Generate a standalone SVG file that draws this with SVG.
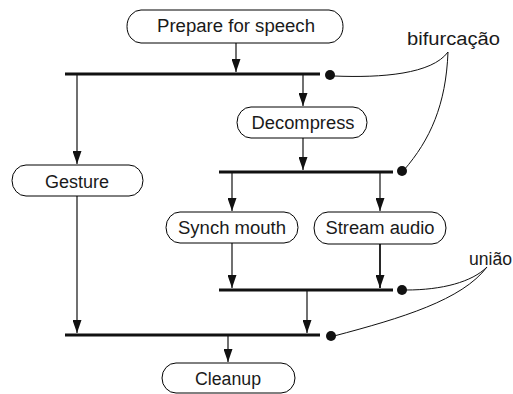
<svg xmlns="http://www.w3.org/2000/svg" width="513" height="394" viewBox="0 0 513 394">
<defs>
<style>
.box{fill:#fff;stroke:#000;stroke-width:1}
.t{font-family:"Liberation Sans",Arial,sans-serif;font-size:18px;fill:#1a1a1a;text-anchor:middle}
.lbl{font-family:"Liberation Sans",Arial,sans-serif;font-size:18px;fill:#1a1a1a}
.bar{stroke:#111;stroke-width:3;fill:none}
.c{stroke:#111;stroke-width:1.2;fill:none;marker-end:url(#ahd)}
.note{stroke:#111;stroke-width:1;fill:none}
.dot{fill:#111}
</style>
<marker id="ahd" markerUnits="userSpaceOnUse" markerWidth="13" markerHeight="9" refX="13" refY="4.5" orient="auto" viewBox="0 0 13 9">
<path d="M0,0 L13,4.5 L0,9 z" fill="#111"/>
</marker>
</defs>
<g id="bars">
<line class="bar" x1="65" y1="74" x2="320" y2="74"/>
<line class="bar" x1="219" y1="172" x2="393" y2="172"/>
<line class="bar" x1="219" y1="290" x2="393" y2="290"/>
<line class="bar" x1="65" y1="335" x2="320" y2="335"/>
</g>
<g id="connectors">
<line class="c" x1="236" y1="43" x2="236" y2="72"/>
<line class="c" x1="303" y1="75" x2="303" y2="106"/>
<line class="c" x1="77" y1="75" x2="77" y2="164"/>
<line class="c" x1="303" y1="138" x2="303" y2="170"/>
<line class="c" x1="232" y1="173" x2="232" y2="211"/>
<line class="c" x1="380" y1="173" x2="380" y2="211"/>
<line class="c" x1="232" y1="243" x2="232" y2="288"/>
<line class="c" x1="380" y1="244" x2="380" y2="288" style="stroke-width:1.8"/>
<line class="c" x1="307" y1="291" x2="307" y2="333"/>
<line class="c" x1="77" y1="196" x2="77" y2="333"/>
<line class="c" x1="228" y1="336" x2="228" y2="362"/>
</g>
<g id="annotations">
<path class="note" d="M448,52 C432,74 382,78 334,76"/>
<path class="note" d="M448,52 C446,105 430,140 404,170"/>
<path class="note" d="M487,267 C472,282 442,290 406,290"/>
<path class="note" d="M487,267 C462,300 402,318 334,336"/>
<circle class="dot" cx="330" cy="75" r="5"/>
<circle class="dot" cx="402" cy="171" r="5"/>
<circle class="dot" cx="402" cy="290" r="5"/>
<circle class="dot" cx="331" cy="336" r="5"/>
<text class="lbl" x="407" y="45" textLength="93" lengthAdjust="spacingAndGlyphs">bifurcação</text>
<text class="lbl" x="469" y="265" textLength="43" lengthAdjust="spacingAndGlyphs">união</text>
</g>
<g id="prepare">
<rect class="box" x="127" y="10" width="216" height="33" rx="14" ry="16.5"/>
<text class="t" x="236" y="32" textLength="158" lengthAdjust="spacingAndGlyphs">Prepare for speech</text>
</g>
<g id="decompress">
<rect class="box" x="237" y="107" width="130" height="31" rx="14" ry="15.5"/>
<text class="t" x="303" y="129" textLength="103" lengthAdjust="spacingAndGlyphs">Decompress</text>
</g>
<g id="gesture">
<rect class="box" x="12" y="165" width="131" height="31" rx="14" ry="15.5"/>
<text class="t" x="77" y="188" textLength="64" lengthAdjust="spacingAndGlyphs">Gesture</text>
</g>
<g id="synch">
<rect class="box" x="166" y="212" width="132" height="31" rx="14" ry="15.5"/>
<text class="t" x="232" y="234" textLength="108" lengthAdjust="spacingAndGlyphs">Synch mouth</text>
</g>
<g id="stream">
<rect class="box" x="314" y="212" width="132" height="32" rx="14" ry="16"/>
<text class="t" x="380" y="234" textLength="109" lengthAdjust="spacingAndGlyphs">Stream audio</text>
</g>
<g id="cleanup">
<rect class="box" x="162" y="363" width="133" height="30" rx="14" ry="15"/>
<text class="t" x="228" y="385" textLength="66" lengthAdjust="spacingAndGlyphs">Cleanup</text>
</g>
</svg>
